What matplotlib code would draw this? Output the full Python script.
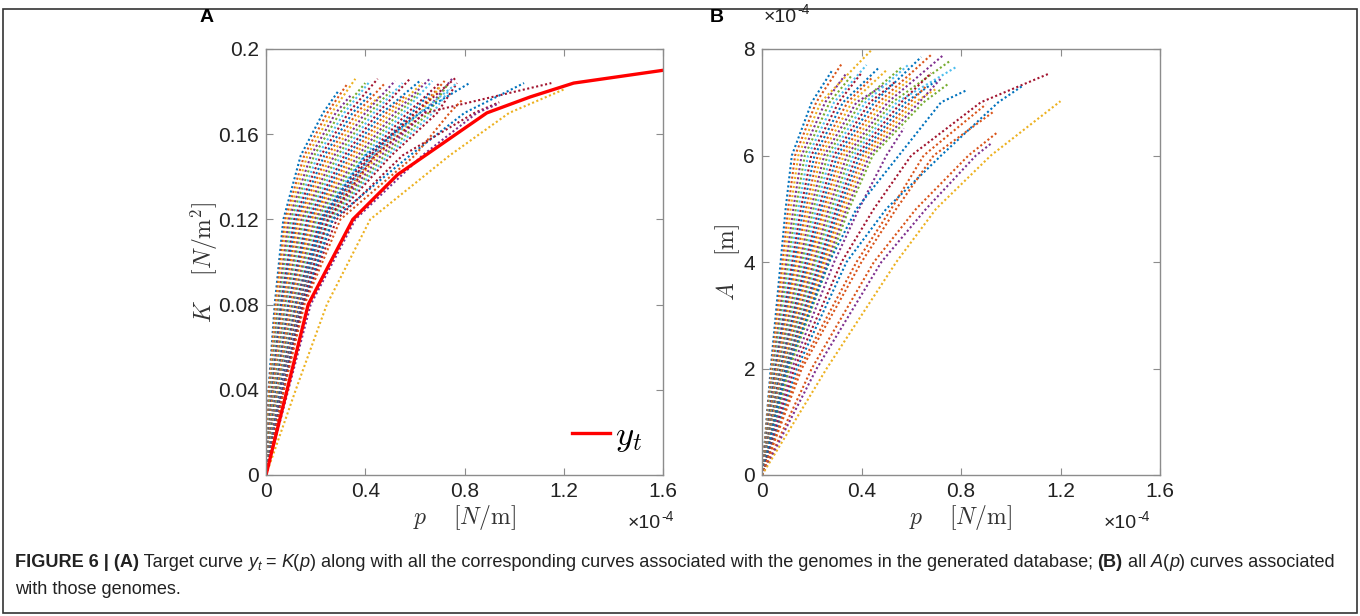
import numpy as np
import matplotlib
matplotlib.use("Agg")
import matplotlib.pyplot as plt
from matplotlib.patches import Rectangle

# values, p in units of 1e-4 N/m
# target curve y_t = K(p)
p_target = [0, 0.17, 0.35, 0.53, 0.89, 1.065, 1.24, 1.6]
K_target = [0, 0.080, 0.120, 0.141, 0.170, 0.1775, 0.184, 0.190]

# panel A: p where each curve crosses these K levels, then end point (p, K)
K_levels = [0.04, 0.08, 0.12, 0.15, 0.17]
curves_K = [
    [0.010, 0.035, 0.070, 0.140, 0.230, 0.29, 0.180],
    [0.012, 0.039, 0.077, 0.154, 0.247, 0.33, 0.184],
    [0.015, 0.043, 0.085, 0.167, 0.264, 0.36, 0.186],
    [0.017, 0.048, 0.092, 0.181, 0.281, 0.34, 0.178],
    [0.019, 0.052, 0.100, 0.194, 0.298, 0.40, 0.184],
    [0.022, 0.056, 0.107, 0.208, 0.315, 0.42, 0.185],
    [0.024, 0.060, 0.114, 0.221, 0.332, 0.45, 0.186],
    [0.026, 0.064, 0.122, 0.235, 0.349, 0.43, 0.180],
    [0.028, 0.069, 0.129, 0.248, 0.366, 0.48, 0.184],
    [0.031, 0.073, 0.137, 0.262, 0.383, 0.46, 0.178],
    [0.033, 0.077, 0.144, 0.275, 0.400, 0.52, 0.185],
    [0.035, 0.081, 0.151, 0.289, 0.417, 0.50, 0.180],
    [0.038, 0.085, 0.159, 0.302, 0.434, 0.55, 0.184],
    [0.040, 0.090, 0.166, 0.316, 0.451, 0.58, 0.186],
    [0.042, 0.094, 0.174, 0.329, 0.468, 0.62, 0.185],
    [0.045, 0.098, 0.181, 0.343, 0.485, 0.56, 0.178],
    [0.047, 0.102, 0.188, 0.356, 0.502, 0.63, 0.184],
    [0.049, 0.106, 0.196, 0.370, 0.519, 0.66, 0.186],
    [0.051, 0.111, 0.203, 0.383, 0.536, 0.62, 0.180],
    [0.054, 0.115, 0.211, 0.397, 0.553, 0.67, 0.185],
    [0.056, 0.119, 0.218, 0.410, 0.570, 0.70, 0.184],
    [0.058, 0.123, 0.225, 0.424, 0.587, 0.66, 0.179],
    [0.061, 0.127, 0.233, 0.437, 0.604, 0.72, 0.185],
    [0.063, 0.132, 0.240, 0.451, 0.621, 0.70, 0.182],
    [0.065, 0.136, 0.248, 0.464, 0.638, 0.75, 0.186],
    [0.068, 0.140, 0.255, 0.478, 0.655, 0.73, 0.183],
    [0.070, 0.144, 0.262, 0.491, 0.672, 0.74, 0.181],
    [0.072, 0.148, 0.270, 0.505, 0.690, 0.77, 0.184],
    # sparser curves to the right
    [0.060, 0.135, 0.225, 0.400, 0.620, 0.82, 0.184],
    [0.062, 0.138, 0.235, 0.420, 0.600, 0.77, 0.187],
    [0.064, 0.140, 0.240, 0.430, 0.620, 0.77, 0.184],
    [0.066, 0.143, 0.250, 0.440, 0.640, 1.15, 0.184],
    [0.068, 0.147, 0.270, 0.580, 0.800, 1.04, 0.184],
    [0.070, 0.150, 0.285, 0.550, 0.840, 0.94, 0.175],
    [0.072, 0.155, 0.300, 0.600, 0.740, 0.79, 0.176],
    [0.090, 0.180, 0.360, 0.630, 0.850, 0.93, 0.174],
    [0.120, 0.245, 0.420, 0.740, 0.980, 1.20, 0.181],
]

# panel B: p where each curve crosses these A levels (x1e-4 m), then end point
A_levels = [2, 4, 5, 6, 7]
nan = np.nan
curves_A = [
    [0.035, 0.075, 0.095, 0.120, 0.200, 0.285, 7.62],
    [0.038, 0.083, 0.105, 0.133, 0.218, 0.320, 7.72],
    [0.041, 0.091, 0.115, 0.146, 0.236, 0.440, 7.98],
    [0.044, 0.098, 0.126, 0.159, 0.254, 0.340, 7.55],
    [0.047, 0.106, 0.136, 0.172, 0.272, 0.360, 7.50],
    [0.050, 0.114, 0.146, 0.185, 0.290, 0.420, 7.70],
    [0.053, 0.122, 0.156, 0.198, 0.308, 0.400, 7.55],
    [0.056, 0.130, 0.166, 0.211, 0.326, 0.470, 7.65],
    [0.059, 0.137, 0.177, 0.224, 0.344, 0.440, 7.45],
    [0.062, 0.145, 0.187, 0.237, 0.362, 0.500, 7.60],
    [0.065, 0.153, 0.197, 0.250, 0.380, 0.490, 7.32],
    [0.068, 0.161, 0.207, 0.263, 0.398, 0.560, 7.65],
    [0.071, 0.169, 0.217, 0.276, 0.416, 0.590, 7.71],
    [0.074, 0.176, 0.228, 0.289, 0.434, 0.540, 7.40],
    [0.077, 0.184, 0.238, 0.302, 0.452, 0.640, 7.85],
    [0.080, 0.192, 0.248, 0.315, 0.470, 0.680, 7.89],
    [0.083, 0.200, 0.258, 0.328, 0.488, 0.600, 7.46],
    [0.086, 0.208, 0.268, 0.341, 0.506, 0.730, 7.89],
    [0.089, 0.215, 0.279, 0.354, 0.524, 0.760, 7.79],
    [0.092, 0.223, 0.289, 0.367, 0.542, 0.780, 7.66],
    [0.095, 0.231, 0.299, 0.380, 0.560, 0.680, 7.55],
    [0.098, 0.239, 0.309, 0.393, 0.578, 0.700, 7.40],
    [0.101, 0.247, 0.319, 0.406, 0.596, 0.660, 7.30],
    [0.104, 0.254, 0.330, 0.419, 0.614, 0.700, 7.25],
    [0.107, 0.262, 0.340, 0.432, 0.632, 0.720, 7.45],
    [0.110, 0.270, 0.350, 0.445, 0.650, 0.750, 7.35],
    # sparser curves to the right
    [0.120, 0.290, 0.390, 0.500, nan, 0.570, 6.51],
    [0.100, 0.270, 0.380, 0.550, 0.720, 0.820, 7.22],
    [0.130, 0.320, 0.450, 0.600, 0.880, 1.150, 7.53],
    [0.140, 0.340, 0.500, 0.720, 0.950, 1.045, 7.30],
    [0.150, 0.380, 0.520, 0.650, nan, 0.900, 6.96],
    [0.160, 0.400, 0.540, 0.690, nan, 0.930, 6.82],
    [0.200, 0.450, 0.620, 0.830, nan, 0.945, 6.43],
    [0.220, 0.480, 0.660, 0.860, nan, 0.925, 6.24],
    [0.260, 0.540, 0.700, 0.920, nan, 1.200, 7.02],
]

x_ticks = [0, 0.4, 0.8, 1.2, 1.6]
x_ticklabels = ["0", "0.4", "0.8", "1.2", "1.6"]
K_ticks = [0, 0.04, 0.08, 0.12, 0.16, 0.2]
K_ticklabels = ["0", "0.04", "0.08", "0.12", "0.16", "0.2"]
A_ticks = [0, 2, 4, 6, 8]

# matlab default colour order
mcol = ["#0072BD", "#D95319", "#EDB120", "#7E2F8E", "#77AC30", "#4DBEEE", "#A2142F"]
sparse_col_K = [0, 6, 5, 6, 0, 6, 1, 3, 2]
sparse_col_A = [3, 0, 6, 0, 1, 1, 1, 3, 2]

plt.rcParams['font.family'] = ['Liberation Sans', 'DejaVu Sans']
plt.rcParams['mathtext.fontset'] = 'cm'

W, H = 1360, 616
fig = plt.figure(figsize=(13.6, 6.16), dpi=100)


def curve_points(row, levels):
    p = [0.0] + list(row[:len(levels)]) + [row[-2]]
    y = [0.0] + list(levels) + [row[-1]]
    p = np.array(p, dtype=float)
    y = np.array(y, dtype=float)
    ok = ~np.isnan(p)
    return p[ok], y[ok]


def draw_family(ax, rows, levels, sparse_cols):
    n_dense = len(rows) - len(sparse_cols)
    for i, row in enumerate(rows):
        if i < n_dense:
            c = mcol[i % 7]
        else:
            c = mcol[sparse_cols[i - n_dense]]
        p, y = curve_points(row, levels)
        ax.plot(p, y, linestyle=(0, (1, 1.2)), color=c, lw=1.5)


def style_axes(ax):
    for s in ax.spines.values():
        s.set_color("#8c8c8c")
        s.set_linewidth(1.0)
    ax.tick_params(direction='in', length=5, width=0.8, color="#8c8c8c",
                   top=True, right=True, labelsize=15, labelcolor="#222222", pad=5)
    ax.set_xlim(0, 1.6)
    ax.set_xticks(x_ticks)
    ax.set_xticklabels(x_ticklabels)


def exponent(x, y):
    # matlab style "x10^-4" multiplier, x/y in pixels from top-left
    fig.text(x / W, 1 - y / H, "×10", fontsize=14, color="#222222", va="center")
    fig.text((x + 33) / W, 1 - (y - 7) / H, "-4", fontsize=10, color="#222222", va="center")


# panel A
axA = fig.add_axes([266 / W, 1 - 475 / H, 397 / W, 426 / H])
draw_family(axA, curves_K, K_levels, sparse_col_K)
axA.plot(p_target, K_target, color="#ff0000", lw=2.4, label=r"$y_t$")
style_axes(axA)
axA.set_ylim(0, 0.2)
axA.set_yticks(K_ticks)
axA.set_yticklabels(K_ticklabels)
axA.set_xlabel(r"$p\quad\ [N/\mathrm{m}]$", fontsize=17, color="#333333")
axA.xaxis.set_label_coords(0.5, -0.065)
axA.set_ylabel(r"$K\quad\ [N/\mathrm{m}^2]$", fontsize=17, color="#333333")
axA.yaxis.set_label_coords(-0.115, 0.5)
axA.legend(loc="lower right", frameon=False, fontsize=25, handlelength=1.1,
           handletextpad=0.15, borderaxespad=0.2)
fig.text(200 / W, 1 - 17 / H, "A", fontsize=14, fontweight="bold", va="center")
exponent(628, 524)

# panel B
axB = fig.add_axes([762 / W, 1 - 475 / H, 398 / W, 426 / H])
draw_family(axB, curves_A, A_levels, sparse_col_A)
style_axes(axB)
axB.set_ylim(0, 8)
axB.set_yticks(A_ticks)
axB.set_xlabel(r"$p\quad\ [N/\mathrm{m}]$", fontsize=17, color="#333333")
axB.xaxis.set_label_coords(0.5, -0.065)
axB.set_ylabel(r"$A\quad\ [\mathrm{m}]$", fontsize=17, color="#333333")
axB.yaxis.set_label_coords(-0.05, 0.5)
fig.text(710 / W, 1 - 17 / H, "B", fontsize=14, fontweight="bold", va="center")
exponent(1104, 524)
exponent(764, 17)

# border
fig.patches.append(Rectangle((3 / W, 3 / H), 1354 / W, 1 - 12 / H, transform=fig.transFigure,
                             fill=False, edgecolor="#333333", lw=1.2))

# caption, written as runs of differently styled text
renderer = fig.canvas.get_renderer()


def put_runs(x, y, runs, size=13.05):
    for s, kind in runs:
        kw = dict(fontsize=size, color="#222222", va="baseline")
        yy = y
        if kind == "b":
            kw["fontweight"] = "bold"
        elif kind == "i":
            kw["fontstyle"] = "italic"
        elif kind == "sub":
            kw["fontstyle"] = "italic"
            kw["fontsize"] = size * 0.7
            yy = y - 3 / H
        t = fig.text(x, yy, s, **kw)
        x += t.get_window_extent(renderer).width / W


line1 = [("FIGURE 6 | (A)", "b"), (" Target curve ", "n"), ("y", "i"), ("t", "sub"),
         (" = ", "n"), ("K", "i"), ("(", "n"), ("p", "i"),
         (") along with all the corresponding curves associated with the genomes in the generated database; ", "n"),
         ("(B)", "b"), (" all ", "n"), ("A", "i"), ("(", "n"), ("p", "i"), (") curves associated", "n")]
line2 = [("with those genomes.", "n")]
put_runs(15 / W, 1 - 567 / H, line1)
put_runs(15 / W, 1 - 594 / H, line2)

fig.savefig("out.png", dpi=100)
